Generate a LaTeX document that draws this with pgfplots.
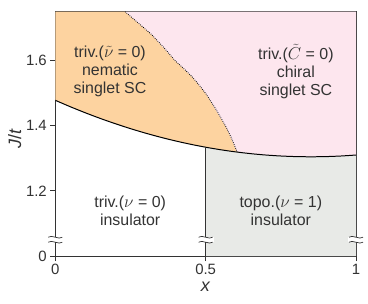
\documentclass[border=0pt]{standalone}
\usepackage{pgfplots}
\pgfplotsset{compat=1.18}
\usepackage{fontspec}
\setmainfont{Liberation Sans}
\definecolor{orng}{HTML}{FDD3A0}
\definecolor{pnk}{HTML}{FDE6EE}
\definecolor{gry}{HTML}{E8EAE7}
\definecolor{axc}{HTML}{333333}
\begin{document}
\begin{tikzpicture}
\useasboundingbox (-55.3bp,-48bp) rectangle (312.7bp,256bp);
\begin{axis}[
  at={(0,0)}, anchor=south west,
  width=300.7bp, height=244.3bp, scale only axis,
  xmin=0, xmax=1, ymin=1, ymax=1.75,
  xtick={0,0.5,1}, xticklabels={0,0.5,1},
  ytick={1,1.2,1.4,1.6}, yticklabels={0,1.2,1.4,1.6},
  tick align=outside, tick pos=left,
  major tick length=5bp,
  /pgf/number format/assume math mode=true,
  tick label style={font=\fontsize{15}{17}\selectfont, text=axc},
  axis line style={axc, line width=0.9pt},
  tick style={axc, line width=0.8pt},
  xlabel={\textit{x}},
  ylabel={\textit{J}/\textit{t}},
  xlabel style={font=\fontsize{18}{20}\selectfont, text=axc, at={(axis description cs:0.5,-0.127)}, anchor=center},
  ylabel style={font=\fontsize{18}{20}\selectfont, text=axc, at={(axis description cs:-0.135,0.48)}, anchor=center},
  clip=true,
]
% orange region
\addplot[fill=orng, draw=none] coordinates {
 (0,1.75) (0.232,1.75) (0.32,1.68) (0.398,1.6) (0.455,1.55) (0.501,1.498) (0.568,1.396) (0.605,1.319)
 (0.6,1.3196) (0.55,1.3262) (0.5,1.334) (0.45,1.343) (0.4,1.3532) (0.35,1.3646) (0.3,1.3772) (0.25,1.391)
 (0.2,1.406) (0.15,1.4222) (0.1,1.4396) (0.05,1.4582) (0,1.478)} -- cycle;
% pink region
\addplot[fill=pnk, draw=none] coordinates {
 (0.232,1.75) (1,1.75) (1,1.31) (0.95,1.307) (0.9,1.3052) (0.85,1.3046) (0.8,1.3052) (0.75,1.307)
 (0.7,1.31) (0.65,1.3142) (0.605,1.319) (0.568,1.396) (0.501,1.498) (0.455,1.55) (0.398,1.6) (0.32,1.68)} -- cycle;
% grey region
\addplot[fill=gry, draw=none] coordinates {
 (0.5,1) (1,1) (1,1.31) (0.95,1.307) (0.9,1.3052) (0.85,1.3046) (0.8,1.3052) (0.75,1.307)
 (0.7,1.31) (0.65,1.3142) (0.6,1.3196) (0.55,1.3262) (0.5,1.334)} -- cycle;
% solid boundary
\addplot[black, line width=1pt, smooth] coordinates {
 (0,1.478) (0.05,1.4582) (0.1,1.4396) (0.15,1.4222) (0.2,1.406) (0.25,1.391) (0.3,1.3772) (0.35,1.3646)
 (0.4,1.3532) (0.45,1.343) (0.5,1.334) (0.55,1.3262) (0.6,1.3196) (0.65,1.3142) (0.7,1.31) (0.75,1.307)
 (0.8,1.3052) (0.85,1.3046) (0.9,1.3052) (0.95,1.307) (1,1.31)};
% dotted boundary
\addplot[black, line width=0.8pt, dash pattern=on 0.8pt off 1.2pt] coordinates {
 (0.232,1.75) (0.275,1.716) (0.32,1.68) (0.36,1.641) (0.398,1.6) (0.43,1.573) (0.455,1.55) (0.48,1.523) (0.501,1.498) (0.536,1.448) (0.568,1.396) (0.588,1.358) (0.605,1.319)};
% vertical boundary
\addplot[axc, line width=1.2pt] coordinates {(0.5,1) (0.5,1.334)};
\coordinate (b0) at (axis cs:0,1.05);
\coordinate (b1) at (axis cs:0.5,1.05);
\coordinate (b2) at (axis cs:1,1.05);
\node[font=\fontsize{16}{17.5}\selectfont, text=axc, align=center] at (axis cs:0.182,1.567) {triv.($\tilde{\nu}$ = 0)\\[1pt]nematic\\singlet SC};
\node[font=\fontsize{16}{17.5}\selectfont, text=axc, align=center] at (axis cs:0.80,1.567) {triv.($\tilde{C}$ = 0)\\[1pt]chiral\\singlet SC};
\node[font=\fontsize{16}{17.5}\selectfont, text=axc, align=center] at (axis cs:0.249,1.139) {triv.($\nu$ = 0)\\insulator};
\node[font=\fontsize{16}{17.5}\selectfont, text=axc, align=center] at (axis cs:0.75,1.139) {topo.($\nu$ = 1)\\insulator};
\end{axis}
\foreach \b in {b0,b1,b2}{
  \fill[white] ([xshift=-8bp,yshift=-2.5bp]\b) rectangle ([xshift=8bp,yshift=2.5bp]\b);
  \draw[axc, line width=0.7pt] ([xshift=-7bp,yshift=2.5bp]\b) .. controls +(3bp,3bp) and +(-3bp,-3bp) .. ([xshift=7bp,yshift=2.5bp]\b);
  \draw[axc, line width=0.7pt] ([xshift=-7bp,yshift=-2.5bp]\b) .. controls +(3bp,3bp) and +(-3bp,-3bp) .. ([xshift=7bp,yshift=-2.5bp]\b);
}
\end{tikzpicture}
\end{document}
